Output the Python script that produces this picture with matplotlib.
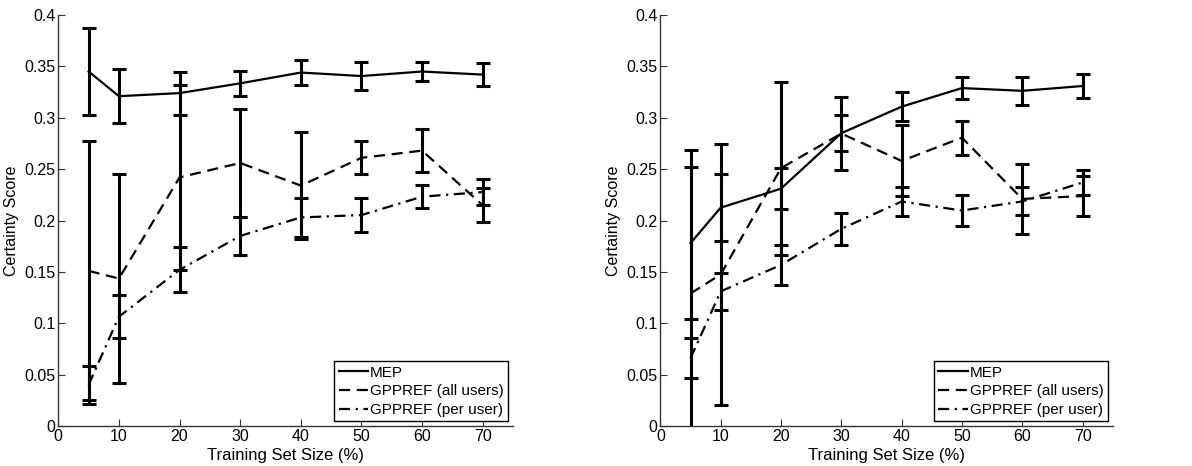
import matplotlib
matplotlib.use("Agg")
import matplotlib.pyplot as plt
import numpy as np

plt.rcParams['font.family'] = ['Liberation Sans', 'DejaVu Sans']

x = [5, 10, 20, 30, 40, 50, 60, 70]
labels = ["MEP", "GPPREF (all users)", "GPPREF (per user)"]
xticks = [0, 10, 20, 30, 40, 50, 60, 70]
yticks = [0, 0.05, 0.1, 0.15, 0.2, 0.25, 0.3, 0.35, 0.4]
ytick_labels = ["0", "0.05", "0.1", "0.15", "0.2", "0.25", "0.3", "0.35", "0.4"]

# Left panel
left_mep = [0.345, 0.321, 0.324, 0.3335, 0.344, 0.3406, 0.345, 0.342]
left_mep_err = [0.042, 0.026, 0.021, 0.012, 0.012, 0.0135, 0.0097, 0.0113]
left_all = [0.151, 0.1435, 0.242, 0.256, 0.234, 0.261, 0.268, 0.2148]
left_all_err = [0.126, 0.1015, 0.0903, 0.0524, 0.052, 0.0159, 0.0206, 0.0167]
left_per = [0.04, 0.1064, 0.152, 0.185, 0.203, 0.2053, 0.2232, 0.2277]
left_per_err = [0.0187, 0.0211, 0.022, 0.0187, 0.0188, 0.0166, 0.0114, 0.0127]

# Right panel
right_mep = [0.178, 0.2125, 0.231, 0.285, 0.3108, 0.3289, 0.3262, 0.3309]
right_mep_err = [0.0737, 0.0327, 0.02, 0.0172, 0.0144, 0.0105, 0.0136, 0.0121]
right_all = [0.129, 0.1475, 0.251, 0.2846, 0.258, 0.2806, 0.221, 0.2238]
right_all_err = [0.14, 0.127, 0.0842, 0.0352, 0.0345, 0.0167, 0.0342, 0.0198]
right_per = [0.066, 0.131, 0.1568, 0.1919, 0.2185, 0.2097, 0.2186, 0.237]
right_per_err = [0.0195, 0.018, 0.0191, 0.0154, 0.0138, 0.0147, 0.0136, 0.012]

styles = ['-', '--', '-.']

fig = plt.figure(figsize=(11.92, 4.66), dpi=100)
ax1 = fig.add_axes([0.0489, 0.0858, 0.3815, 0.882])
ax2 = fig.add_axes([0.554, 0.0858, 0.3795, 0.882])

panels = [
    (ax1, [(left_mep, left_mep_err), (left_all, left_all_err), (left_per, left_per_err)]),
    (ax2, [(right_mep, right_mep_err), (right_all, right_all_err), (right_per, right_per_err)]),
]

for ax, series in panels:
    for (vals, errs), ls, lab in zip(series, styles, labels):
        ax.errorbar(x, vals, yerr=errs, fmt='none', ecolor='black',
                    elinewidth=2.2, capsize=5, capthick=2.2, zorder=2)
        line, = ax.plot(x, vals, color='black', linestyle=ls, linewidth=1.6,
                        label=lab, zorder=3)
        if ls == '--':
            line.set_dashes([5, 3])
        elif ls == '-.':
            line.set_dashes([5, 2.5, 1, 2.5])
    ax.set_xlim(0, 75)
    ax.set_ylim(0, 0.4)
    ax.set_xticks(xticks)
    ax.set_yticks(yticks)
    ax.set_yticklabels(ytick_labels)
    ax.spines['top'].set_visible(False)
    ax.spines['right'].set_visible(False)
    for s in ['left', 'bottom']:
        ax.spines[s].set_color('#333333')
        ax.spines[s].set_linewidth(1.0)
    ax.tick_params(direction='in', length=5, labelsize=11.5, colors='#333333',
                   labelcolor='black', pad=2)
    ax.set_xlabel("Training Set Size (%)", fontsize=12, labelpad=3)
    ax.set_ylabel("Certainty Score", fontsize=11.5, labelpad=4)
    leg = ax.legend(loc='lower right', fontsize=11, frameon=True, fancybox=False,
                    edgecolor='black', framealpha=1, handlelength=1.9,
                    handletextpad=0.15, borderpad=0.3, labelspacing=0.3,
                    borderaxespad=0.3)
    leg.get_frame().set_linewidth(1.0)

fig.savefig("out.png", dpi=100)
